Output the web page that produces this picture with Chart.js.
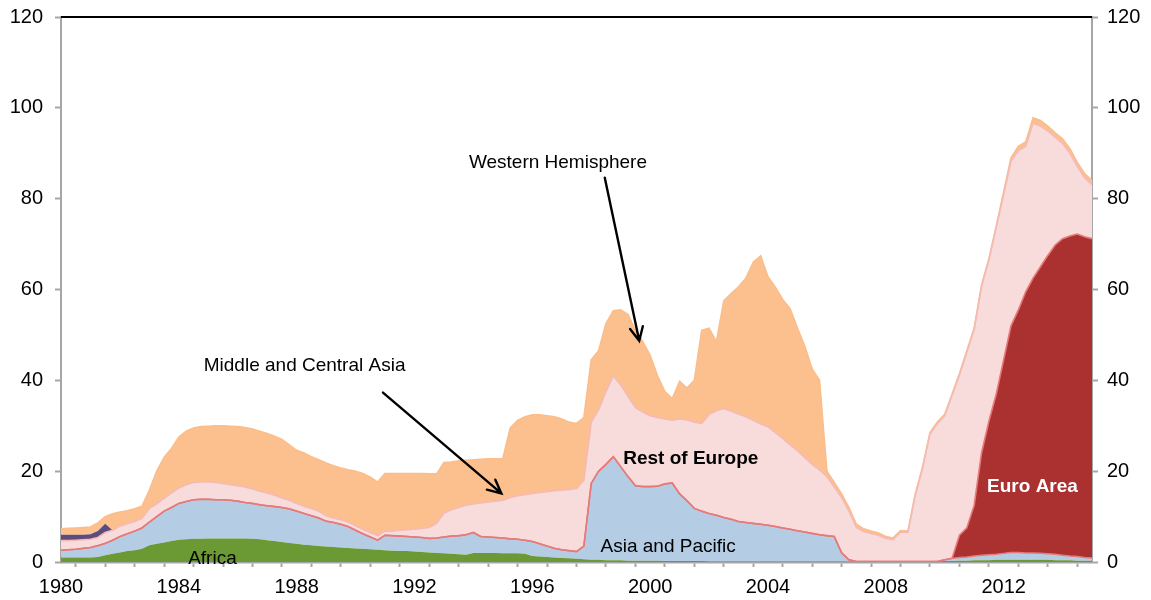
<!DOCTYPE html>
<html>
<head>
<meta charset="utf-8">
<title>Stacked regional totals, 1980-2014</title>
<script src="https://cdn.jsdelivr.net/npm/chart.js@4.4.1/dist/chart.umd.min.js"></script>
<style>
  html, body { margin: 0; padding: 0; background: #fff; }
  #chart { display: block; }
</style>
</head>
<body>
<canvas id="chart" width="1151" height="600"></canvas>
<script>
// Quarterly observations, 1980 Q1 through 2015 Q1.
const startYear = 1980;
const labelYears = [1980, 1984, 1988, 1992, 1996, 2000, 2004, 2008, 2012];
const yTicks = [0, 20, 40, 60, 80, 100, 120];

const africa = [
  1.0, 1.0, 1.0, 1.0,   // 1980
  1.0, 1.1, 1.5, 1.8,   // 1981
  2.1, 2.4, 2.6, 2.9,   // 1982
  3.7, 4.0, 4.3, 4.6,   // 1983
  4.9, 5.0, 5.1, 5.1,   // 1984
  5.2, 5.2, 5.2, 5.2,   // 1985
  5.2, 5.2, 5.1, 5.0,   // 1986
  4.8, 4.6, 4.4, 4.2,   // 1987
  4.0, 3.8, 3.7, 3.5,   // 1988
  3.4, 3.3, 3.2, 3.1,   // 1989
  3.0, 2.9, 2.8, 2.7,   // 1990
  2.6, 2.5, 2.4, 2.4,   // 1991
  2.3, 2.2, 2.1, 2.0,   // 1992
  1.9, 1.8, 1.7, 1.6,   // 1993
  2.0, 2.0, 2.0, 2.0,   // 1994
  1.9, 1.9, 1.9, 1.8,   // 1995
  1.3, 1.2, 1.1, 1.0,   // 1996
  0.9, 0.8, 0.7, 0.6,   // 1997
  0.5, 0.5, 0.4, 0.4,   // 1998
  0.4, 0.3, 0.3, 0.3,   // 1999
  0.3, 0.3, 0.2, 0.2,   // 2000
  0.2, 0.2, 0.2, 0.2,   // 2001
  0.1, 0.1, 0.1, 0.1,   // 2002
  0.1, 0.1, 0.1, 0.1,   // 2003
  0.1, 0.1, 0.1, 0.1,   // 2004
  0.1, 0.1, 0.1, 0.1,   // 2005
  0.1, 0.1, 0.1, 0.1,   // 2006
  0.1, 0.1, 0.1, 0.1,   // 2007
  0.1, 0.1, 0.1, 0.1,   // 2008
  0.1, 0.1, 0.1, 0.1,   // 2009
  0.2, 0.2, 0.3, 0.3,   // 2010
  0.4, 0.4, 0.4, 0.5,   // 2011
  0.5, 0.5, 0.5, 0.5,   // 2012
  0.5, 0.5, 0.5, 0.4,   // 2013
  0.4, 0.4, 0.3, 0.3,   // 2014
  0.3                   // 2015
];

const asiaPacific = [
  1.6, 1.7, 1.8, 2.0,   // 1980
  2.2, 2.5, 2.6, 3.0,   // 1981
  3.5, 3.8, 4.2, 4.6,   // 1982
  5.1, 6.0, 6.9, 7.4,   // 1983
  8.0, 8.3, 8.6, 8.7,   // 1984
  8.6, 8.5, 8.5, 8.4,   // 1985
  8.2, 7.9, 7.8, 7.6,   // 1986
  7.6, 7.6, 7.6, 7.5,   // 1987
  7.2, 6.9, 6.5, 6.2,   // 1988
  5.6, 5.4, 5.1, 4.7,   // 1989
  4.0, 3.3, 2.7, 2.1,   // 1990
  3.3, 3.3, 3.3, 3.2,   // 1991
  3.2, 3.2, 3.1, 3.3,   // 1992
  3.6, 3.9, 4.1, 4.4,   // 1993
  4.5, 3.6, 3.5, 3.4,   // 1994
  3.4, 3.2, 3.1, 3.0,   // 1995
  3.2, 2.8, 2.4, 2.0,   // 1996
  1.8, 1.7, 1.6, 2.9,   // 1997
  16.8, 19.5, 21.1, 22.8, // 1998
  20.6, 18.5, 16.5, 16.3, // 1999
  16.3, 16.4, 17.0, 17.2, // 2000
  14.8, 13.3, 11.6, 11.0, // 2001
  10.6, 10.2, 9.7, 9.3, // 2002
  8.8, 8.6, 8.4, 8.2,   // 2003
  8.0, 7.7, 7.4, 7.1,   // 2004
  6.8, 6.5, 6.2, 5.9,   // 2005
  5.7, 5.5, 1.9, 0.4,   // 2006
  0, 0, 0, 0,           // 2007
  0, 0, 0, 0,           // 2008
  0, 0, 0, 0,           // 2009
  0.3, 0.6, 0.7, 0.8,   // 2010
  0.9, 1.1, 1.2, 1.2,   // 2011
  1.4, 1.6, 1.6, 1.5,   // 2012
  1.5, 1.4, 1.3, 1.3,   // 2013
  1.1, 0.9, 0.9, 0.7,   // 2014
  0.6                   // 2015
];

const euroArea = [
  0, 0, 0, 0,   // 1980
  0, 0, 0, 0,   // 1981
  0, 0, 0, 0,   // 1982
  0, 0, 0, 0,   // 1983
  0, 0, 0, 0,   // 1984
  0, 0, 0, 0,   // 1985
  0, 0, 0, 0,   // 1986
  0, 0, 0, 0,   // 1987
  0, 0, 0, 0,   // 1988
  0, 0, 0, 0,   // 1989
  0, 0, 0, 0,   // 1990
  0, 0, 0, 0,   // 1991
  0, 0, 0, 0,   // 1992
  0, 0, 0, 0,   // 1993
  0, 0, 0, 0,   // 1994
  0, 0, 0, 0,   // 1995
  0, 0, 0, 0,   // 1996
  0, 0, 0, 0,   // 1997
  0, 0, 0, 0,   // 1998
  0, 0, 0, 0,   // 1999
  0, 0, 0, 0,   // 2000
  0, 0, 0, 0,   // 2001
  0, 0, 0, 0,   // 2002
  0, 0, 0, 0,   // 2003
  0, 0, 0, 0,   // 2004
  0, 0, 0, 0,   // 2005
  0, 0, 0, 0,   // 2006
  0, 0, 0, 0,   // 2007
  0, 0, 0, 0,   // 2008
  0, 0, 0, 0,   // 2009
  0, 0, 4.9, 6.4,         // 2010
  11.2, 22.5, 29.4, 35.3, // 2011
  42.6, 49.9, 53.4, 57.5, // 2012
  60.5, 63.1, 65.7, 68.1, // 2013
  69.7, 70.5, 71.0, 70.6, // 2014
  70.3                    // 2015
];

const restOfEurope = [
  2.1, 2.0, 2.0, 1.9,   // 1980
  1.8, 1.8, 2.4, 2.2,   // 1981
  2.3, 2.2, 2.1, 2.1,   // 1982
  3.0, 2.8, 2.8, 3.2,   // 1983
  3.4, 3.7, 3.8, 3.8,   // 1984
  3.8, 3.8, 3.6, 3.4,   // 1985
  3.4, 3.4, 3.2, 3.0,   // 1986
  2.8, 2.5, 2.1, 1.9,   // 1987
  1.7, 1.6, 1.6, 1.5,   // 1988
  1.2, 1.0, 1.0, 1.0,   // 1989
  1.0, 1.0, 1.0, 1.0,   // 1990
  0.9, 1.0, 1.3, 1.5,   // 1991
  1.7, 2.0, 2.4, 3.2,   // 1992
  5.3, 5.8, 6.2, 6.5,   // 1993
  6.3, 7.4, 7.7, 8.0,   // 1994
  8.3, 9.1, 9.6, 10.0,  // 1995
  10.6, 11.3, 12.0, 12.7, // 1996
  13.1, 13.5, 13.9, 14.5, // 1997
  13.5, 13.5, 16.0, 17.8, // 1998
  18.0, 17.7, 17.2, 16.4, // 1999
  15.6, 15.1, 14.3, 13.8, // 2000
  16.5, 17.8, 19.0, 19.3, // 2001
  21.8, 23.0, 24.0, 23.8, // 2002
  23.7, 23.3, 22.7, 22.1, // 2003
  21.7, 20.7, 19.7, 18.6, // 2004
  17.6, 16.4, 15.2, 14.3, // 2005
  13.0, 10.9, 12.2, 10.7, // 2006
  7.5, 6.6, 6.2, 5.8,     // 2007
  5.1, 4.8, 6.5, 6.4,     // 2008
  14.6, 20.6, 28.1, 30.4, // 2009
  31.7, 35.9, 35.3, 38.7, // 2010
  38.7, 36.7, 35.5, 36.7, // 2011
  36.4, 36.2, 35.1, 32.0, // 2012
  34.1, 31.0, 27.4, 23.7, // 2013
  21.0, 18.2, 14.9, 13.0, // 2014
  11.9                    // 2015
];

const middleCentralAsia = [
  1.3, 1.3, 1.2, 1.1,   // 1980
  1.1, 1.4, 1.9, 0,     // 1981
  0, 0, 0, 0,   // 1982
  0, 0, 0, 0,   // 1983
  0, 0, 0, 0,   // 1984
  0, 0, 0, 0,   // 1985
  0, 0, 0, 0,   // 1986
  0, 0, 0, 0,   // 1987
  0, 0, 0, 0,   // 1988
  0, 0, 0, 0,   // 1989
  0, 0, 0, 0,   // 1990
  0, 0, 0, 0,   // 1991
  0, 0, 0, 0,   // 1992
  0, 0, 0, 0,   // 1993
  0, 0, 0, 0,   // 1994
  0, 0, 0, 0,   // 1995
  0, 0, 0, 0,   // 1996
  0, 0, 0, 0,   // 1997
  0, 0, 0, 0,   // 1998
  0, 0, 0, 0,   // 1999
  0, 0, 0, 0,   // 2000
  0, 0, 0, 0,   // 2001
  0, 0, 0, 0,   // 2002
  0, 0, 0, 0,   // 2003
  0, 0, 0, 0,   // 2004
  0, 0, 0, 0,   // 2005
  0, 0, 0, 0,   // 2006
  0, 0, 0, 0,   // 2007
  0, 0, 0, 0,   // 2008
  0, 0, 0, 0,   // 2009
  0, 0, 0, 0,   // 2010
  0, 0, 0, 0,   // 2011
  0, 0, 0, 0,   // 2012
  0, 0, 0, 0,   // 2013
  0, 0, 0, 0,   // 2014
  0             // 2015
];

const westernHemisphere = [
  1.3, 1.4, 1.5, 1.6,     // 1980
  1.6, 1.8, 1.6, 3.6,     // 1981
  3.1, 2.9, 2.8, 2.7,     // 1982
  4.0, 7.2, 9.0, 9.8,     // 1983
  11.2, 11.8, 12.0, 12.2, // 1984
  12.3, 12.5, 12.7, 12.9, // 1985
  13.0, 13.1, 13.2, 13.2, // 1986
  13.1, 13.0, 12.9, 12.2, // 1987
  11.7, 11.7, 11.4, 11.3, // 1988
  11.6, 11.5, 11.4, 11.5, // 1989
  12.0, 12.3, 12.2, 11.8, // 1990
  12.7, 12.7, 12.5, 12.4, // 1991
  12.3, 12.1, 11.8, 10.9, // 1992
  11.1, 10.5, 10.3, 9.9,  // 1993
  9.7, 9.6, 9.5, 9.3,     // 1994
  9.2, 15.3, 16.6, 17.2,  // 1995
  17.3, 17.1, 16.7, 16.3, // 1996
  15.7, 14.8, 14.3, 13.8, // 1997
  13.7, 13.0, 15.0, 14.3, // 1998
  16.5, 18.0, 17.0, 15.5, // 1999
  13.3, 9.2, 6.0, 4.8,    // 2000
  8.3, 7.0, 9.2, 20.5,    // 2001
  19.0, 15.2, 23.7, 25.9, // 2002
  28.0, 30.5, 34.8, 37.0, // 2003
  33.0, 32.0, 30.6, 30.0, // 2004
  27.0, 24.5, 21.0, 19.7, // 2005
  1.2, 1.0, 0.8, 0.8,     // 2006
  0.7, 0.6, 0.5, 0.5,     // 2007
  0.4, 0.4, 0.3, 0.3,     // 2008
  0.3, 0.3, 0.3, 0.3,     // 2009
  0.3, 0.3, 0.3, 0.3,     // 2010
  0.3, 0.3, 0.3, 0.3,     // 2011
  0.6, 0.8, 0.9, 1.0,     // 2012
  1.2, 1.2, 1.1, 1.0,     // 2013
  1.0, 1.0, 0.9, 0.9,     // 2014
  0.9                     // 2015
];

// Text labels and pointer arrows, placed in data units
const notes = [
  { text: 'Western Hemisphere', x: 1996.87, y: 88.0 },
  { text: 'Middle and Central Asia', x: 1988.27, y: 43.2 },
  { text: 'Rest of Europe', x: 2001.38, y: 22.8, bold: true },
  { text: 'Asia and Pacific', x: 2000.61, y: 3.4 },
  { text: 'Africa', x: 1985.14, y: 0.66 },
  { text: 'Euro Area', x: 2012.98, y: 16.6, bold: true, color: '#ffffff' }
];
const arrows = [
  { from: [1998.46, 84.6], to: [1999.63, 48.7] },
  { from: [1990.93, 37.3], to: [1994.95, 15.1] }
];

const FONT = '"Liberation Sans", Arial, Helvetica, sans-serif';
const AXIS_GREY = '#a6a6a6';
Chart.defaults.font.family = FONT;
Chart.defaults.color = '#000';

const dates = africa.map((_, i) => startYear + i / 4);
const markYears = [];
for (let yr = startYear; yr < 2015; yr++) markYears.push(yr + 0.5);

function area(label, values, fillColor, lineColor, lineWidth, fill) {
  return {
    label: label,
    data: values.map((v, i) => ({ x: dates[i], y: v })),
    backgroundColor: fillColor,
    borderColor: lineColor,
    borderWidth: lineWidth,
    fill: fill,
    pointRadius: 0,
    pointHoverRadius: 0,
    tension: 0
  };
}

const overlay = {
  id: 'overlay',
  afterDraw(chart) {
    const { ctx, chartArea } = chart;
    const x = chart.scales.x;
    const y = chart.scales.y;
    ctx.save();

    // black frame line along the top of the plot
    ctx.strokeStyle = '#000';
    ctx.lineWidth = 2;
    ctx.beginPath();
    ctx.moveTo(chartArea.left, chartArea.top);
    ctx.lineTo(chartArea.right, chartArea.top);
    ctx.stroke();

    ctx.textAlign = 'center';
    ctx.textBaseline = 'middle';
    notes.forEach(n => {
      ctx.font = (n.bold ? 'bold ' : '') + '19px ' + FONT;
      ctx.fillStyle = n.color || '#000';
      ctx.fillText(n.text, x.getPixelForValue(n.x), y.getPixelForValue(n.y));
    });

    ctx.strokeStyle = '#000';
    ctx.lineWidth = 2.4;
    ctx.lineCap = 'round';
    arrows.forEach(a => {
      const x0 = x.getPixelForValue(a.from[0]), y0 = y.getPixelForValue(a.from[1]);
      const x1 = x.getPixelForValue(a.to[0]), y1 = y.getPixelForValue(a.to[1]);
      const ang = Math.atan2(y1 - y0, x1 - x0);
      const head = 15, spread = 0.45;
      ctx.beginPath();
      ctx.moveTo(x0, y0);
      ctx.lineTo(x1, y1);
      ctx.moveTo(x1 - head * Math.cos(ang - spread), y1 - head * Math.sin(ang - spread));
      ctx.lineTo(x1, y1);
      ctx.lineTo(x1 - head * Math.cos(ang + spread), y1 - head * Math.sin(ang + spread));
      ctx.stroke();
    });
    ctx.restore();
  }
};

function valueAxis(position, width, padding) {
  return {
    type: 'linear',
    position: position,
    stacked: position === 'left',
    min: 0,
    max: 120,
    afterBuildTicks: axis => { axis.ticks = yTicks.map(v => ({ value: v })); },
    ticks: { padding: padding, font: { size: 20 }, color: '#000' },
    grid: { drawOnChartArea: false, drawTicks: true, tickLength: 6, tickWidth: 2, tickColor: AXIS_GREY },
    border: { display: true, color: AXIS_GREY, width: 2 },
    afterFit: axis => {
      axis.width = width;
      axis.paddingTop = 0;
      axis.paddingBottom = 0;
    }
  };
}

new Chart(document.getElementById('chart'), {
  type: 'line',
  data: {
    datasets: [
      area('Africa', africa, '#6b9a35', 'rgba(0,0,0,0)', 0, 'origin'),
      area('Asia and Pacific', asiaPacific, '#b5cde4', '#e77a78', 1.5, '-1'),
      area('Euro Area', euroArea, '#ab3131', '#e77a78', 1.6, '-1'),
      area('Rest of Europe', restOfEurope, '#f8dbdb', '#f4bab6', 1.6, '-1'),
      area('Middle and Central Asia', middleCentralAsia, '#5f4a7c', 'rgba(0,0,0,0)', 0, '-1'),
      area('Western Hemisphere', westernHemisphere, '#fcc08f', '#fbbd8a', 1.6, '-1')
    ]
  },
  options: {
    responsive: false,
    animation: false,
    events: [],
    layout: { padding: { top: 17, left: 0, right: 0, bottom: 0 } },
    plugins: {
      legend: { display: false },
      tooltip: { enabled: false },
      filler: { drawTime: 'beforeDatasetsDraw' }
    },
    scales: {
      x: {
        type: 'linear',
        position: 'bottom',
        min: startYear,
        max: 2015,
        afterBuildTicks: axis => {
          axis.ticks = labelYears.concat(markYears).sort((a, b) => a - b).map(v => ({ value: v }));
        },
        ticks: {
          autoSkip: false,
          maxRotation: 0,
          padding: 8,
          font: { size: 20 },
          color: '#000',
          callback: v => labelYears.includes(v) ? String(v) : ''
        },
        grid: {
          drawOnChartArea: false,
          drawTicks: true,
          tickLength: 5,
          tickWidth: 2,
          tickColor: c => (c.tick && labelYears.includes(c.tick.value)) ? 'rgba(0,0,0,0)' : AXIS_GREY
        },
        border: { display: true, color: AXIS_GREY, width: 2.5 },
        afterFit: axis => {
          axis.height = 38;
          axis.paddingLeft = 0;
          axis.paddingRight = 0;
        }
      },
      y: valueAxis('left', 61, 12),
      y2: valueAxis('right', 59, 9)
    }
  },
  plugins: [overlay]
});
</script>
</body>
</html>
